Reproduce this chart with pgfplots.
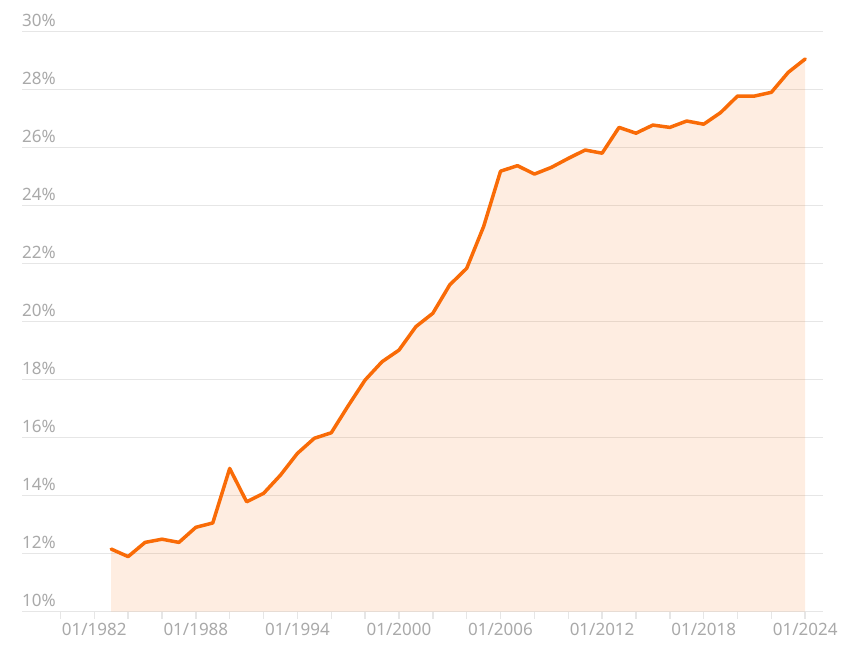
\documentclass[border=0pt]{standalone}
\usepackage{fontspec}
\setmainfont{Noto Sans}
\usepackage{pgfplots}
\usepackage{pgfplotstable}
\pgfplotsset{compat=1.18}

\definecolor{lineor}{HTML}{F96B07}
\definecolor{gridc}{HTML}{E6E6E6}
\definecolor{labc}{HTML}{A9A9A9}

% share in percent, one value per year (January)
\pgfplotstableread{
year share
1983 12.16
1984 11.90
1985 12.39
1986 12.50
1987 12.39
1988 12.91
1989 13.06
1990 14.94
1991 13.79
1992 14.08
1993 14.71
1994 15.46
1995 15.98
1996 16.17
1997 17.10
1998 17.99
1999 18.62
2000 19.02
2001 19.83
2002 20.29
2003 21.27
2004 21.84
2005 23.28
2006 25.19
2007 25.38
2008 25.09
2009 25.32
2010 25.63
2011 25.92
2012 25.81
2013 26.70
2014 26.50
2015 26.78
2016 26.70
2017 26.92
2018 26.81
2019 27.21
2020 27.78
2021 27.78
2022 27.91
2023 28.60
2024 29.06
}\sharedata

\begin{document}
\begin{tikzpicture}
\useasboundingbox (-22bp,-55.3bp) rectangle (828bp,611.7bp);
\begin{axis}[
  at={(0,0)}, anchor=south west,
  scale only axis, width=801bp, height=580bp,
  xmin=1977.73, xmax=2025.05, ymin=10, ymax=30,
  axis x line*=bottom, axis y line*=left,
  y axis line style={draw=none},
  x axis line style={gridc, line width=1.5bp},
  xtick={1982,1988,...,2024},
  xticklabels={01/1982,01/1988,01/1994,01/2000,01/2006,01/2012,01/2018,01/2024},
  minor xtick={1980,1982,...,2024},
  tick align=outside,
  major tick length=7bp, minor tick length=7bp,
  every tick/.style={gridc, line width=1.5bp},
  ytick style={draw=none},
  ytick={10,12,...,30},
  yticklabels={10\%,12\%,14\%,16\%,18\%,20\%,22\%,24\%,26\%,28\%,30\%},
  ymajorgrids, grid style={gridc, line width=1.5bp},
  ticklabel style={font=\fontsize{17bp}{20bp}\selectfont, text=labc},
  yticklabel style={anchor=base west, inner sep=0pt, xshift=7bp, yshift=5bp},
  xticklabel style={anchor=north, inner sep=0pt, yshift=-4bp},
]
\addplot[draw=none, fill=lineor, fill opacity=0.12] table[x=year, y=share] {\sharedata} \closedcycle;
\addplot[lineor, line width=3.5bp, line join=round, line cap=round, no markers] table[x=year, y=share] {\sharedata};
\end{axis}
\end{tikzpicture}
\end{document}
